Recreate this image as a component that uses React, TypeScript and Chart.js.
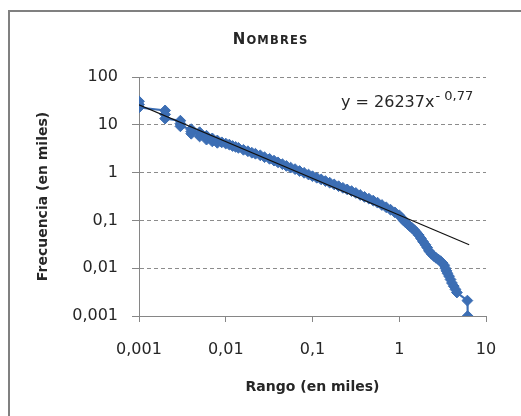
import React, { useEffect, useRef } from 'react';
import { Chart, registerables } from 'chart.js';

Chart.register(...registerables);

// Rank (thousands) and frequency (thousands), in drawing order
const rankValues = [
  0.001, 0.001, 0.001,
  0.002, 0.002, 0.002,
  0.003, 0.003, 0.003,
  0.004, 0.004, 0.004,
  0.005, 0.005,
  0.006, 0.006,
  0.007, 0.007,
  0.008, 0.008,
  0.009, 0.010, 0.011, 0.012, 0.013, 0.014, 0.016, 0.018, 0.020, 0.022,
  0.025, 0.028, 0.032, 0.036, 0.040, 0.045, 0.050, 0.056, 0.063, 0.071,
  0.080, 0.090, 0.100, 0.112, 0.126, 0.141, 0.158, 0.178, 0.200, 0.224,
  0.251, 0.282, 0.316, 0.355, 0.398, 0.447, 0.501, 0.562, 0.631, 0.708,
  0.794, 0.891, 1.0, 1.06, 1.12, 1.19, 1.26, 1.33, 1.41, 1.5,
  1.58, 1.68, 1.78, 1.88, 2.0, 2.1, 2.2, 2.35, 2.5, 2.65,
  2.82, 3.0, 3.16, 3.3, 3.4, 3.5, 3.6, 3.75, 3.9, 4.05,
  4.25, 4.45, 4.62, 6.1, 6.15,
];
const freqValues = [
  31, 26.5, 23,
  20, 16.5, 13.5,
  12.2, 10.6, 9.3,
  8.1, 7.2, 6.5,
  7.0, 5.7,
  5.9, 4.9,
  5.2, 4.5,
  4.7, 4.2,
  4.3, 4.05, 3.85, 3.6, 3.45, 3.3, 3.0, 2.8, 2.6, 2.48,
  2.3, 2.1, 1.94, 1.78, 1.64, 1.5, 1.38, 1.27, 1.18, 1.08,
  0.99, 0.91, 0.84, 0.78, 0.72, 0.665, 0.615, 0.565, 0.52, 0.48,
  0.445, 0.41, 0.375, 0.34, 0.31, 0.285, 0.26, 0.235, 0.21, 0.188,
  0.167, 0.147, 0.128, 0.114, 0.1, 0.09, 0.082, 0.075, 0.069, 0.062,
  0.056, 0.049, 0.042, 0.036, 0.031, 0.027, 0.023, 0.02, 0.018, 0.0165,
  0.0152, 0.014, 0.0128, 0.0115, 0.01, 0.0088, 0.0078, 0.0068, 0.0058, 0.0049,
  0.0042, 0.0036, 0.0031, 0.0021, 0.001,
];

// Power trendline (straight on log-log axes): its two end points
const trendRanks = [0.001, 6.4];
const trendFreqs = [26.2, 0.031];

const xTickValues = [0.001, 0.01, 0.1, 1, 10];
const xTickLabels = ['0,001', '0,01', '0,1', '1', '10'];
const yTickValues = [0.001, 0.01, 0.1, 1, 10, 100];
const yTickLabels = ['0,001', '0,01', '0,1', '1', '10', '100'];

const titleText = 'Nombres';
const xTitle = 'Rango (en miles)';
const yTitle = 'Frecuencia (en miles)';
const eqMain = 'y = 26237x';
const eqSup = '- 0,77';

const BLUE = '#3C6EB4';
const AXIS = '#868686';
const TEXT = '#262626';
const FONT = "'DejaVu Sans', sans-serif";

const overlayPlugin = {
  id: 'overlay',
  afterDraw(chart: any) {
    const { ctx, chartArea } = chart;
    ctx.save();
    // clear the right margin and draw the outer frame (left and top only)
    ctx.fillStyle = '#ffffff';
    ctx.fillRect(chartArea.right + 15, 13, chart.width, chart.height);
    ctx.strokeStyle = '#808080';
    ctx.lineWidth = 2;
    ctx.beginPath();
    ctx.moveTo(9, chart.height + 5);
    ctx.lineTo(9, 11);
    ctx.lineTo(chart.width + 5, 11);
    ctx.stroke();

    ctx.fillStyle = TEXT;
    ctx.textBaseline = 'alphabetic';
    ctx.textAlign = 'left';
    // Title in small caps
    const big = 15;
    const small = 11.5;
    const spacing = 1.2;
    const chars = titleText.split('');
    const widths: number[] = [];
    const fonts: string[] = [];
    chars.forEach((c, i) => {
      const f = `bold ${i === 0 ? big : small}px ${FONT}`;
      ctx.font = f;
      fonts.push(f);
      widths.push(ctx.measureText(c.toUpperCase()).width);
    });
    const total = widths.reduce((a, b) => a + b, 0) + spacing * (chars.length - 1);
    let tx = (chart.width + 19) / 2 - total / 2;
    const ty = 43.5;
    chars.forEach((c, i) => {
      ctx.font = fonts[i];
      ctx.fillText(c.toUpperCase(), tx, ty);
      tx += widths[i] + spacing;
    });
    // Equation
    ctx.font = `16px ${FONT}`;
    const ex = chartArea.right - 145;
    const ey = chartArea.top + 30;
    ctx.fillText(eqMain, ex, ey);
    const w = ctx.measureText(eqMain).width;
    ctx.font = `13px ${FONT}`;
    ctx.fillText(eqSup, ex + w + 1, ey - 7.5);
    ctx.restore();
  },
};

export default function App() {
  const canvasRef = useRef<HTMLCanvasElement>(null);

  useEffect(() => {
    if (!canvasRef.current) return;
    const points = rankValues.map((x, i) => ({ x, y: freqValues[i] }));
    const trend = trendRanks.map((x, i) => ({ x, y: trendFreqs[i] }));
    const chart = new Chart(canvasRef.current, {
      type: 'scatter',
      data: {
        datasets: [
          {
            label: 'Tendencia',
            data: trend,
            showLine: true,
            borderColor: '#111111',
            borderWidth: 1.1,
            pointRadius: 0,
            order: 0,
          },
          {
            label: 'Nombres',
            data: points,
            showLine: true,
            borderColor: BLUE,
            borderWidth: 2,
            pointStyle: 'rectRot',
            pointRadius: 5.4,
            pointBorderWidth: 1,
            pointBackgroundColor: BLUE,
            pointBorderColor: BLUE,
            order: 1,
          },
        ],
      },
      options: {
        animation: false,
        responsive: false,
        maintainAspectRatio: false,
        layout: { padding: { top: 77, right: 35, bottom: 0, left: 0 } },
        plugins: {
          legend: { display: false },
          tooltip: { enabled: false },
          title: { display: false },
        },
        scales: {
          x: {
            type: 'logarithmic',
            min: 0.001,
            max: 10,
            afterBuildTicks: (s: any) => {
              s.ticks = xTickValues.map((v) => ({ value: v }));
            },
            afterFit: (s: any) => {
              s.height = 100;
            },
            ticks: {
              autoSkip: false,
              maxRotation: 0,
              padding: 18,
              color: TEXT,
              font: { family: FONT, size: 16 },
              callback: (v: any) => {
                const i = xTickValues.findIndex((t) => Math.abs(t - Number(v)) < t * 1e-6);
                return i >= 0 ? xTickLabels[i] : '';
              },
            },
            grid: {
              drawOnChartArea: false,
              drawTicks: true,
              tickLength: 6,
              color: AXIS,
              lineWidth: 1,
            },
            border: { color: AXIS, width: 1 },
            title: {
              display: true,
              text: xTitle,
              color: TEXT,
              font: { family: FONT, size: 14, weight: 'bold' },
              padding: { top: 0, bottom: 20 },
            },
          },
          y: {
            type: 'logarithmic',
            min: 0.001,
            max: 100,
            afterBuildTicks: (s: any) => {
              s.ticks = yTickValues.map((v) => ({ value: v }));
            },
            afterFit: (s: any) => {
              s.width = 139;
            },
            ticks: {
              autoSkip: false,
              padding: 14,
              color: TEXT,
              font: { family: FONT, size: 16 },
              callback: (v: any) => {
                const i = yTickValues.findIndex((t) => Math.abs(t - Number(v)) < t * 1e-6);
                return i >= 0 ? yTickLabels[i] : '';
              },
            },
            grid: {
              drawOnChartArea: true,
              drawTicks: true,
              tickLength: 7,
              color: '#8c8c8c',
              lineWidth: 1,
              tickColor: AXIS,
              tickBorderDash: [],
            },
            border: { color: AXIS, width: 1, dash: [4, 3] },
            title: {
              display: true,
              text: yTitle,
              color: TEXT,
              font: { family: FONT, size: 14, weight: 'bold' },
              padding: { top: 35, bottom: 0 },
            },
          },
        },
      },
      plugins: [overlayPlugin],
    } as any);
    return () => chart.destroy();
  }, []);

  return (
    <div style={{ position: 'fixed', left: 0, top: 0, width: 521, height: 416, background: '#fff', overflow: 'hidden' }}>
      <canvas ref={canvasRef} width={521} height={416} style={{ display: 'block', width: 521, height: 416 }} />
    </div>
  );
}
